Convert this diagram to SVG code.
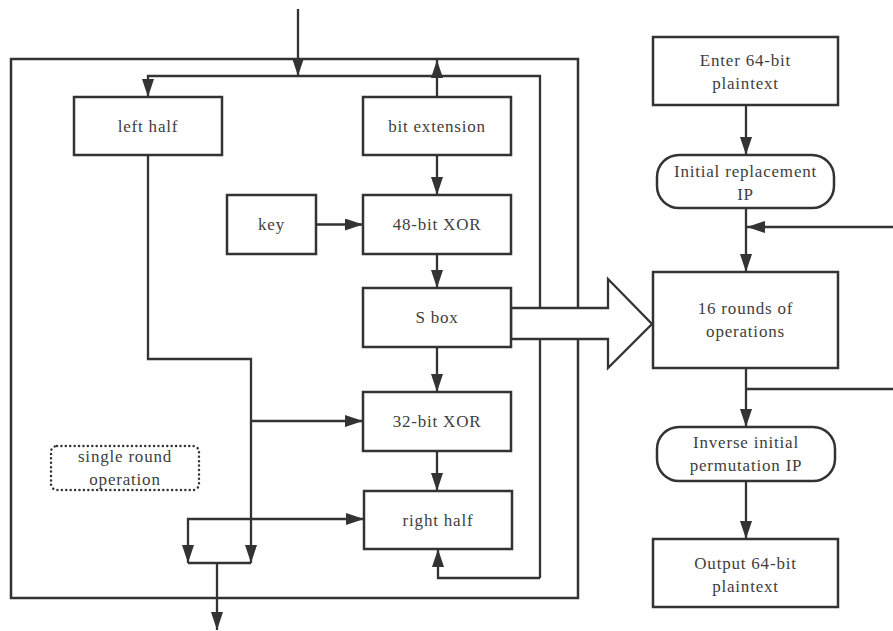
<svg xmlns="http://www.w3.org/2000/svg" width="893" height="631" viewBox="0 0 893 631">
<style>
.box{fill:#fff;stroke:#333;stroke-width:2.5}
.ln{fill:none;stroke:#333;stroke-width:2.3}
text{font-size:17px;fill:#404040;text-anchor:middle;letter-spacing:0.8px}
</style>
<defs>
<marker id="ah" markerWidth="18" markerHeight="12" refX="18" refY="6" orient="auto" markerUnits="userSpaceOnUse"><path d="M0,0 L18,6 L0,12 z" fill="#333"/></marker>
</defs>
<rect id="frame" x="11" y="59" width="567" height="539" fill="none" stroke="#333" stroke-width="2.5"/>
<g id="connectors">
<path class="ln" d="M298,9 L298,76" marker-end="url(#ah)"/>
<path class="ln" d="M540,578 L540,76 L148,76 L148,97" marker-end="url(#ah)"/>
<path class="ln" d="M540,578 L438,578 L438,549" marker-end="url(#ah)"/>
<path class="ln" d="M437,97 L437,60" marker-end="url(#ah)"/>
<path class="ln" d="M437,155 L437,195" marker-end="url(#ah)"/>
<path class="ln" d="M316,224.5 L363,224.5" marker-end="url(#ah)"/>
<path class="ln" d="M437,254 L437,288" marker-end="url(#ah)"/>
<path class="ln" d="M437,347 L437,392" marker-end="url(#ah)"/>
<path class="ln" d="M437,451 L437,491" marker-end="url(#ah)"/>
<path class="ln" d="M148,155 L148,359 L251,359 L251,563" marker-end="url(#ah)"/>
<path class="ln" d="M251,421 L363,421" marker-end="url(#ah)"/>
<path class="ln" d="M251,519 L364,519" marker-end="url(#ah)"/>
<path class="ln" d="M252,519 L188,519 L188,563" marker-end="url(#ah)"/>
<path class="ln" d="M188,563 L251,563"/>
<path class="ln" d="M217,563 L217,630" marker-end="url(#ah)"/>
<polygon points="511,308 608,308 608,279 652,324 608,368 608,339 511,339" fill="#fff" stroke="#333" stroke-width="2.3"/>
<path class="ln" d="M746,105 L746,155" marker-end="url(#ah)"/>
<path class="ln" d="M746,208 L746,272" marker-end="url(#ah)"/>
<path class="ln" d="M893,227 L747,227" marker-end="url(#ah)"/>
<path class="ln" d="M746,368 L746,427" marker-end="url(#ah)"/>
<path class="ln" d="M746,389 L893,389"/>
<path class="ln" d="M746,481 L746,539" marker-end="url(#ah)"/>
</g>
<g font-family="Liberation Serif, Times New Roman, serif">
<g id="left-half"><rect class="box" x="74" y="97" width="148" height="58"/><text x="148" y="132">left half</text></g>
<g id="bit-extension"><rect class="box" x="363" y="97" width="148" height="58"/><text x="437" y="132">bit extension</text></g>
<g id="key"><rect class="box" x="227" y="195" width="89" height="59"/><text x="271.5" y="230">key</text></g>
<g id="xor48"><rect class="box" x="363" y="195" width="148" height="59"/><text x="437" y="230">48-bit XOR</text></g>
<g id="sbox"><rect class="box" x="363" y="288" width="148" height="59"/><text x="437" y="323">S box</text></g>
<g id="xor32"><rect class="box" x="363" y="392" width="148" height="59"/><text x="437" y="427">32-bit XOR</text></g>
<g id="right-half"><rect class="box" x="364" y="491" width="148" height="58"/><text x="438" y="526">right half</text></g>
<g id="single-round"><rect x="51" y="446" width="148" height="44" rx="6" fill="none" stroke="#333" stroke-width="2.5" stroke-dasharray="0.01 4.4" stroke-linecap="round"/><text x="125" y="462">single round</text><text x="125" y="485">operation</text></g>
<g id="enter"><rect class="box" x="653" y="37" width="185" height="68"/><text x="745.5" y="66">Enter 64-bit</text><text x="745.5" y="89">plaintext</text></g>
<g id="initial"><rect class="box" x="657" y="155" width="177" height="53" rx="22"/><text x="745.5" y="177">Initial replacement</text><text x="745.5" y="200">IP</text></g>
<g id="rounds16"><rect class="box" x="653" y="272" width="185" height="96"/><text x="745.5" y="314">16 rounds of</text><text x="745.5" y="337">operations</text></g>
<g id="inverse"><rect class="box" x="657" y="427" width="178" height="54" rx="22"/><text x="746" y="448">Inverse initial</text><text x="746" y="471">permutation IP</text></g>
<g id="output"><rect class="box" x="653" y="539" width="185" height="68"/><text x="745.5" y="569">Output 64-bit</text><text x="745.5" y="592">plaintext</text></g>
</g>
</svg>
